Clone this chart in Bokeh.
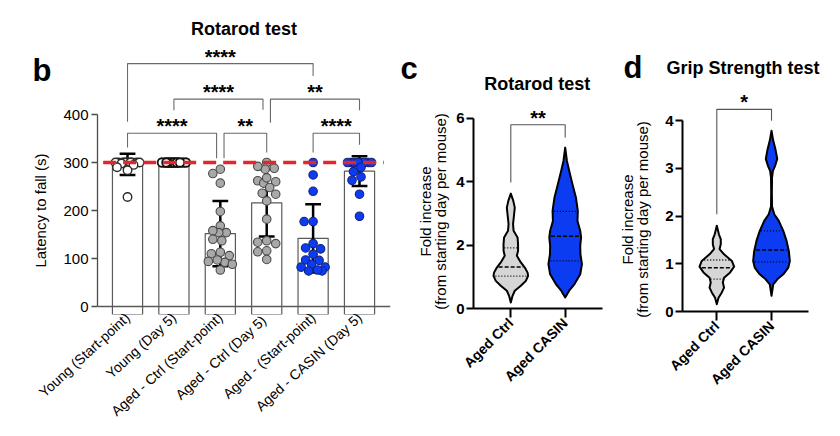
import math
import numpy as np
from bokeh.plotting import figure
from bokeh.models import FixedTicker, Range1d, Span, GridBox
from bokeh.embed import file_html
from bokeh.resources import INLINE
from bokeh.core.properties import value

FONT = "Liberation Sans"

# ---------------- panel b data ----------------
b_categories = ["Young (Start-point)", "Young (Day 5)", "Aged - Ctrl (Start-point)",
                "Aged - Ctrl  (Day 5)", "Aged - (Start-point)", "Aged - CASIN (Day 5)"]
b_means = [296, 300, 152, 216, 142, 282]
b_sd = [22, 1, 68, 70, 71, 31]
b_young_start = [300, 300, 300, 300, 300, 300, 300, 300, 300, 300, 300, 298, 295, 290, 284, 228]
b_young_day5 = [300, 300, 300, 300, 300, 300, 300, 300, 300, 300, 300, 300, 300, 300]
b_aged_ctrl_start = [286, 277, 257, 198, 168, 154, 154, 158, 137, 140, 113, 110, 106, 94, 92, 88, 97, 76]
b_aged_ctrl_day5 = [300, 286, 288, 292, 262, 257, 260, 268, 248, 236, 234, 220, 182, 134, 131, 137, 116, 114, 98]
b_aged_start = [300, 274, 240, 177, 177, 131, 122, 120, 109, 96, 97, 88, 74, 82, 82, 74, 76]
b_aged_casin_day5 = [300, 300, 300, 300, 300, 300, 300, 300, 290, 281, 270, 263, 234, 188]
b_ceiling = 300
b_yticks = [0, 100, 200, 300, 400]
b_ylabel = "Latency to fall (s)"
# brackets: (left group, right group, left leg end, right leg end, top, label)
b_brackets = [
    (0, 4, 385, 480, 506, "****"),
    (1, 3, 409, 410, 432, "****"),
    (3, 5, 383, 409, 432, "**"),
    (0, 2, 331, 309, 361, "****"),
    (2, 3, 309, 321, 361, "**"),
    (4, 5, 321, 337, 361, "****"),
]

# ---------------- panel c data (Rotarod, fold increase) ----------------
cd_categories = ["Aged Ctrl", "Aged CASIN"]
cd_ylabel = ["Fold increase", "(from starting day per mouse)"]
c_ctrl_y = [0.19, 0.40, 0.56, 0.72, 0.87, 1.03, 1.13, 1.29, 1.45, 1.66, 1.82, 2.03, 2.24, 2.45, 2.66, 2.97, 3.18, 3.40, 3.62]
c_ctrl_density = [0, 0.10, 0.23, 0.58, 0.87, 1.0, 0.97, 0.81, 0.58, 0.35, 0.42, 0.42, 0.39, 0.16, 0.13, 0.19, 0.23, 0.14, 0]
c_ctrl_quartiles = [1.02, 1.31, 1.91]
c_casin_y = [0.35, 0.56, 0.77, 1.08, 1.40, 1.71, 1.98, 2.24, 2.45, 2.76, 3.08, 3.50, 3.92, 4.34, 4.65, 5.07]
c_casin_density = [0, 0.23, 0.54, 0.87, 0.97, 0.88, 0.87, 0.92, 0.87, 0.71, 0.73, 0.62, 0.42, 0.23, 0.10, 0]
c_casin_quartiles = [1.50, 2.28, 3.06]
c_yticks = [0, 2, 4, 6]
c_bracket = (3.97, 5.39, 5.79, "**")

# ---------------- panel d data (Grip strength, fold increase) ----------------
d_ctrl_y = [0.15, 0.29, 0.40, 0.50, 0.61, 0.71, 0.82, 0.94, 1.06, 1.20, 1.31, 1.41, 1.52, 1.62, 1.80]
d_ctrl_density = [0, 0.10, 0.29, 0.42, 0.35, 0.42, 0.77, 1.0, 0.87, 0.42, 0.16, 0.23, 0.23, 0.12, 0]
d_ctrl_quartiles = [0.68, 0.92, 1.08]
d_casin_y = [0.33, 0.57, 0.68, 0.78, 0.92, 1.06, 1.27, 1.48, 1.69, 1.90, 2.04, 2.20, 2.50, 2.81, 2.95, 3.05, 3.20, 3.40, 3.60, 3.79]
d_casin_density = [0, 0.10, 0.35, 0.68, 0.97, 1.06, 1.0, 0.87, 0.68, 0.42, 0.16, 0.03, 0.02, 0.03, 0.08, 0.20, 0.33, 0.23, 0.09, 0]
d_casin_quartiles = [1.04, 1.29, 1.69]
d_yticks = [0, 1, 2, 3, 4]
d_bracket = (2.04, 4.00, 4.24, "*")

# ---------------- panel headings ----------------
panel_letters = ["b", "c", "d"]
panel_titles = ["Rotarod test", "Rotarod test", "Grip Strength  test"]

GRAY_FILL = "#d6d6d6"
BLUE = "#0b3cf2"
H = 436


def make_fig(width, left, right, bottom, xr, yr, top=8):
    p = figure(width=width, height=H, x_range=Range1d(*xr), y_range=Range1d(*yr),
               output_backend="svg", toolbar_location=None, tools="",
               min_border_left=left, min_border_right=right,
               min_border_top=top, min_border_bottom=bottom)
    p.frame_align = False
    p.outline_line_color = None
    p.xgrid.visible = False
    p.ygrid.visible = False
    p.background_fill_color = "white"
    p.border_fill_color = "white"
    for ax in (p.xaxis[0], p.yaxis[0]):
        ax.minor_tick_line_color = None
        ax.major_label_text_font = FONT
        ax.major_label_text_color = "black"
    return p


def swarm_offsets(vals, ppu_y, ppu_x, d=8.5, max_px=13, step=1.5):
    order = sorted(range(len(vals)), key=lambda i: -vals[i])
    cands = [0.0]
    k = 1
    while k * step <= max_px:
        cands += [-k * step, k * step]
        k += 1
    placed = []
    offs = [0.0] * len(vals)
    for i in order:
        y = vals[i] * ppu_y
        best, best_ov = 0.0, 1e9
        for c in cands:
            ov = 0.0
            for (px, py) in placed:
                ov = max(ov, d - math.hypot(c - px, y - py))
            if ov < best_ov - 1e-9:
                best, best_ov = c, ov
            if ov <= 0:
                break
        placed.append((best, y))
        offs[i] = best / ppu_x
    return offs


def add_stars(p, x, y, text):
    p.text(x=[x], y=[y], text=[text], text_font=value(FONT), text_font_style="bold",
           text_font_size="20px", text_align="center", text_baseline="middle",
           text_color="black", y_offset=-7)


# =============== panel b ===============
PPU_Y_B = 0.48   # px per unit
PPU_X_B = 46.4
b_y0 = -8 / PPU_Y_B
pb = make_fig(395, 97, 5, 122, (-0.647, 5.668), (b_y0, b_y0 + 306 / PPU_Y_B))

xs_b = list(range(len(b_categories)))
bar_w = 0.65
pb.vbar(x=xs_b, top=b_means, bottom=b_y0, width=bar_w, fill_color="white",
        line_color="#5a5a5a", line_width=1.2)

lo = [m - s for m, s in zip(b_means, b_sd)]
hi = [m + s for m, s in zip(b_means, b_sd)]
cap = 0.17
pb.segment(x0=xs_b, x1=xs_b, y0=lo, y1=hi, line_color="black", line_width=2.5)
pb.segment(x0=[x - cap for x in xs_b], x1=[x + cap for x in xs_b], y0=lo, y1=lo,
           line_color="black", line_width=2.5)
pb.segment(x0=[x - cap for x in xs_b], x1=[x + cap for x in xs_b], y0=hi, y1=hi,
           line_color="black", line_width=2.5)

groups = [b_young_start, b_young_day5, b_aged_ctrl_start, b_aged_ctrl_day5, b_aged_start, b_aged_casin_day5]
fills = ["white", "white", "#a8a8a8", "#a8a8a8", BLUE, BLUE]
lines = ["#2a2a2a", "#111111", "#4a4a4a", "#4a4a4a", "#16237a", "#16237a"]
lwidths = [1.4, 1.8, 1.1, 1.1, 1.1, 1.1]
for gi, vals in enumerate(groups):
    offs = swarm_offsets(vals, PPU_Y_B, PPU_X_B)
    pb.scatter(x=[gi + o for o in offs], y=vals, size=8.5, marker="circle",
               fill_color=fills[gi], line_color=lines[gi], line_width=lwidths[gi])

pb.segment(x0=[-bar_w / 2 - 0.2], x1=[xs_b[-1] + bar_w / 2 + 0.2], y0=[b_ceiling], y1=[b_ceiling],
           line_color="#e3262b", line_width=3.5, line_dash="13 7")

pb.add_layout(Span(location=0, dimension="width", line_color="#5a5a5a", line_width=1.5))

inset = 0.08
for (l, r, yl, yr, top, lab) in b_brackets:
    lx = l + (inset if any(bb[1] == l for bb in b_brackets if bb[4] == top) else 0)
    rx = r - (inset if any(bb[0] == r for bb in b_brackets if bb[4] == top) else 0)
    pb.multi_line(xs=[[lx, lx, rx, rx]], ys=[[yl, top, top, yr]], line_color="#6a6a6a", line_width=1.1)
    add_stars(pb, (lx + rx) / 2, top, lab)

pb.yaxis.ticker = FixedTicker(ticks=b_yticks)
pb.yaxis.bounds = (0, 400)
pb.yaxis.major_label_text_font_size = "15px"
pb.yaxis.axis_line_color = "#4a4a4a"
pb.yaxis.axis_line_width = 1.3
pb.yaxis.major_tick_line_color = "#4a4a4a"
pb.yaxis.major_tick_line_width = 1.3
pb.yaxis.major_tick_out = 6
pb.yaxis.major_tick_in = 0
pb.yaxis.major_label_standoff = 3

pb.xaxis.ticker = FixedTicker(ticks=xs_b)
pb.xaxis.major_label_overrides = {i: c for i, c in enumerate(b_categories)}
pb.xaxis.major_label_orientation = 0.74
pb.xaxis.major_label_text_font_size = "14px"
pb.xaxis.major_label_text_line_height = 1.0
pb.xaxis.axis_line_color = None
pb.xaxis.major_tick_line_color = None
pb.xaxis.major_tick_out = 0
pb.xaxis.major_tick_in = 0
pb.xaxis.major_label_standoff = 1


# =============== violins ===============
def draw_violin(p, center, ys, dens, quarts, fill, scale):
    ys = np.asarray(ys, dtype=float)
    w = np.asarray(dens, dtype=float) * scale
    xs = np.concatenate([center - w, (center + w)[::-1]])
    yy = np.concatenate([ys, ys[::-1]])
    p.patch(xs, yy, fill_color=fill, line_color="black", line_width=2, line_join="round")
    for q, dash, lw in ((quarts[0], "1 2", 1.3), (quarts[1], "4 2", 1.5), (quarts[2], "1 2", 1.3)):
        hw = float(np.interp(q, ys, w)) * 0.9
        p.segment(x0=[center - hw], x1=[center + hw], y0=[q], y1=[q],
                  line_color="black", line_width=lw, line_dash=dash)


def style_violin_axes(p, yticks, ybounds):
    p.yaxis.ticker = FixedTicker(ticks=yticks)
    p.yaxis.bounds = ybounds
    p.yaxis.major_label_text_font_size = "15px"
    p.yaxis.major_label_text_font_style = "bold"
    p.yaxis.major_label_standoff = 2
    p.xaxis.ticker = FixedTicker(ticks=[0, 1])
    p.xaxis.major_label_overrides = {i: c for i, c in enumerate(cd_categories)}
    p.xaxis.major_label_orientation = math.pi / 4
    p.xaxis.major_label_text_font_size = "14px"
    p.xaxis.major_label_text_font_style = "bold"
    p.xaxis.major_label_standoff = 3
    for ax in (p.xaxis[0], p.yaxis[0]):
        ax.axis_line_color = "black"
        ax.axis_line_width = 2
        ax.major_tick_line_color = "black"
        ax.major_tick_line_width = 2
        ax.major_tick_in = 0
    p.yaxis.major_tick_out = 7
    p.xaxis.major_tick_out = 9


def draw_bracket(p, br):
    yl, yr, top, lab = br
    p.multi_line(xs=[[0, 0, 1, 1]], ys=[[yl, top, top, yr]], line_color="#555555", line_width=1.1)
    add_stars(p, 0.5, top, lab)


# =============== panel c ===============
PPU_Y_C = 31.73
PPU_X_C = 54.4
pc = make_fig(217, 78, 10, 128, (-0.686, 1.686), (0, 300 / PPU_Y_C))
scale_c = 17.3 / PPU_X_C
draw_violin(pc, 0, c_ctrl_y, c_ctrl_density, c_ctrl_quartiles, GRAY_FILL, scale_c)
draw_violin(pc, 1, c_casin_y, c_casin_density, c_casin_quartiles, BLUE, scale_c)
draw_bracket(pc, c_bracket)
style_violin_axes(pc, c_yticks, (0, 6))

# =============== panel d ===============
PPU_Y_D = 47.68
PPU_X_D = 54.7
pd_ = make_fig(228, 70, 32, 125, (-0.627, 1.676), (0, 303 / PPU_Y_D))
scale_d = 17.3 / PPU_X_D
draw_violin(pd_, 0, d_ctrl_y, d_ctrl_density, d_ctrl_quartiles, GRAY_FILL, scale_d)
draw_violin(pd_, 1, d_casin_y, d_casin_density, d_casin_quartiles, BLUE, scale_d)
draw_bracket(pd_, d_bracket)
style_violin_axes(pd_, d_yticks, (0, 4))

# =============== headings / axis titles overlay (page pixel space) ===============
ov = figure(width=840, height=H, x_range=Range1d(0, 840), y_range=Range1d(H, 0),
            output_backend="svg", toolbar_location=None, tools="",
            x_axis_location=None, y_axis_location=None, min_border=0)
ov.frame_align = False
ov.outline_line_color = None
ov.xgrid.visible = False
ov.ygrid.visible = False
ov.background_fill_color = None
ov.border_fill_color = None
ov.text(x=[32, 400, 623], y=[70, 68, 67], text=panel_letters, text_font=value(FONT),
        text_font_style="bold", text_font_size="31px", text_align="left",
        text_baseline="alphabetic", text_color="black")
ov.text(x=[243.5, 536.7, 745], y=[28, 83, 67], text=panel_titles, text_font=value(FONT),
        text_font_style="bold", text_font_size="18px", text_align="center",
        text_baseline="middle", text_color="black")
ov.text(x=[40, 425, 440, 627, 642], y=[210, 211, 211, 219, 219],
        text=[b_ylabel] + cd_ylabel + cd_ylabel, angle=math.pi / 2,
        text_font=value(FONT), text_font_size="15px", text_align="center",
        text_baseline="middle", text_color="black")

layout = GridBox(children=[(pb, 0, 0), (pc, 0, 1), (pd_, 0, 2), (ov, 0, 0, 1, 3)])
open("out.html", "w").write(file_html(layout, INLINE))
